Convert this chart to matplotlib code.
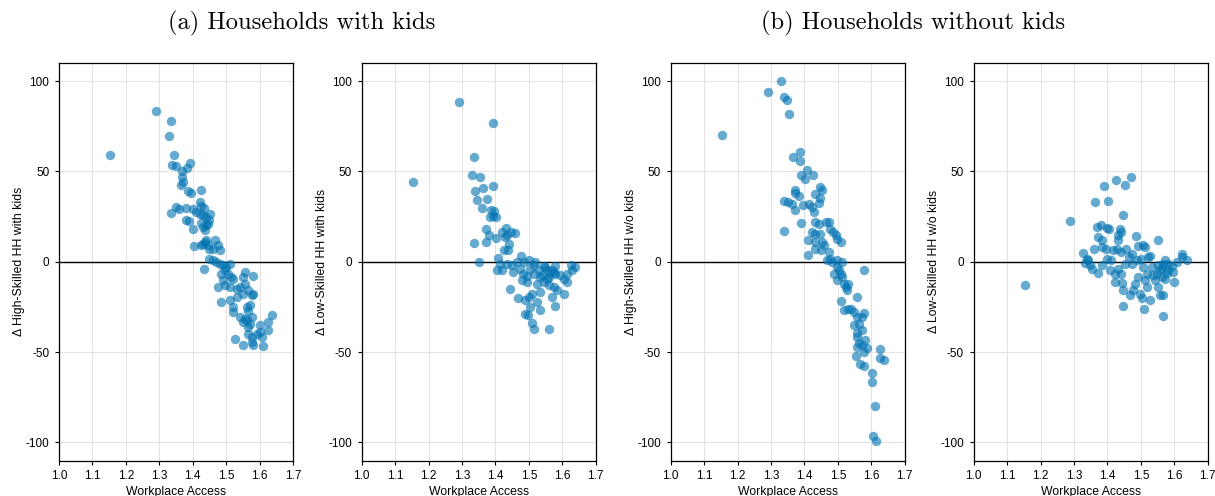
import matplotlib
matplotlib.use("Agg")
import matplotlib.pyplot as plt

plt.rcParams['axes.unicode_minus'] = False
plt.rcParams['font.family'] = ['Liberation Sans', 'DejaVu Sans']

# ---------------- data ----------------
x_hs_kids = [1.152, 1.289, 1.336, 1.329, 1.344, 1.339, 1.351, 1.392, 1.383, 1.369, 1.369, 1.371, 1.366,
             1.386, 1.396, 1.424, 1.336, 1.351, 1.358, 1.381, 1.379, 1.389, 1.401, 1.401, 1.421, 1.426,
             1.433, 1.411, 1.421, 1.431, 1.441, 1.449, 1.447, 1.441, 1.431, 1.436, 1.451, 1.426, 1.405,
             1.426, 1.436, 1.441, 1.431, 1.446, 1.449, 1.461, 1.466, 1.476, 1.481, 1.449, 1.461, 1.471,
             1.433, 1.481, 1.491, 1.501, 1.511, 1.496, 1.506, 1.486, 1.516, 1.521, 1.491, 1.496, 1.476,
             1.511, 1.531, 1.541, 1.556, 1.551, 1.579, 1.556, 1.566, 1.581, 1.576, 1.551, 1.531, 1.511,
             1.486, 1.521, 1.561, 1.566, 1.571, 1.521, 1.541, 1.556, 1.561, 1.576, 1.551, 1.566, 1.571,
             1.626, 1.636, 1.601, 1.626, 1.601, 1.591, 1.566, 1.576, 1.606, 1.581, 1.551, 1.526, 1.611,
             1.576]
y_hs_kids = [59.2, 83.6, 78.0, 69.7, 59.0, 53.5, 52.8, 54.8, 52.0, 50.0, 46.9, 44.0, 42.3,
             38.9, 38.0, 39.5, 27.0, 30.3, 29.3, 29.9, 23.2, 22.3, 18.3, 29.3, 33.0, 31.0,
             30.0, 27.5, 26.6, 25.6, 24.7, 22.9, 21.0, 20.1, 19.2, 17.3, 26.6, 21.4, 8.5,
             9.0, 10.9, 11.8, 10.0, 9.0, 7.2, 7.2, 11.8, 9.0, 6.6, 1.7, 0.7, -0.2,
             -3.9, -1.1, -2.0, -3.0, -1.1, -4.8, -6.6, -6.6, -8.5, -9.4, -10.3, -13.1, -14.0,
             -14.0, -15.0, -14.0, -5.7, -8.5, -8.1, -12.2, -15.9, -17.7, -18.6, -17.7, -19.6, -21.4,
             -22.3, -25.0, -25.0, -27.0, -24.2, -27.9, -30.6, -31.5, -32.5, -30.6, -33.4, -36.2, -34.3,
             -33.4, -29.7, -35.2, -38.0, -38.9, -39.9, -39.9, -41.7, -41.7, -46.3, -46.3, -43.0, -46.9,
             -44.5]

x_ls_kids = [1.153, 1.291, 1.392, 1.336, 1.329, 1.354, 1.364, 1.392, 1.339, 1.374, 1.346, 1.359, 1.386,
             1.397, 1.394, 1.384, 1.402, 1.371, 1.381, 1.371, 1.336, 1.403, 1.352, 1.419, 1.431, 1.436,
             1.429, 1.446, 1.459, 1.442, 1.426, 1.439, 1.409, 1.414, 1.404, 1.419, 1.434, 1.449, 1.464,
             1.476, 1.486, 1.499, 1.519, 1.454, 1.474, 1.484, 1.504, 1.514, 1.529, 1.539, 1.554, 1.569,
             1.579, 1.559, 1.579, 1.544, 1.559, 1.574, 1.524, 1.494, 1.479, 1.444, 1.534, 1.509, 1.499,
             1.469, 1.489, 1.569, 1.584, 1.604, 1.604, 1.614, 1.614, 1.626, 1.639, 1.629, 1.579, 1.524,
             1.532, 1.504, 1.489, 1.497, 1.509, 1.516, 1.559, 1.594, 1.534, 1.554, 1.564, 1.549, 1.574,
             1.544, 1.514, 1.494]
y_ls_kids = [43.9, 88.4, 76.9, 57.7, 47.8, 46.9, 40.8, 41.9, 38.9, 34.5, 33.9, 29.7, 28.4,
             28.0, 25.3, 24.7, 24.7, 17.9, 14.6, 10.9, 10.3, 13.1, 0.0, 16.4, 18.6, 14.6,
             13.7, 16.4, 15.9, 10.0, 6.3, 6.3, 2.0, -1.5, -4.8, -4.8, -1.1, -2.0, -0.2,
             3.0, -0.2, 0.7, -0.2, -5.7, -3.9, -6.6, -3.9, -6.6, -4.8, -7.6, -4.8, -4.8,
             -6.6, -8.5, -2.4, -11.3, -13.1, -14.0, -12.2, -11.3, -10.3, -14.9, -16.8, -17.7, -19.6,
             -19.9, -21.4, -19.6, -15.9, -17.7, -9.4, -11.3, -6.6, -2.0, -2.9, -4.8, -24.5, -22.3,
             -26.9, -25.0, -28.8, -29.2, -33.8, -37.1, -37.3, -7.6, -8.5, -9.4, -6.0, -3.0, -5.5,
             -2.5, -2.0, -8.0]

x_hs_nokids = [1.153, 1.291, 1.330, 1.338, 1.348, 1.353, 1.366, 1.386, 1.388, 1.391, 1.401, 1.408, 1.426,
               1.371, 1.373, 1.383, 1.338, 1.350, 1.363, 1.373, 1.396, 1.413, 1.423, 1.430, 1.433, 1.446,
               1.453, 1.448, 1.443, 1.338, 1.391, 1.433, 1.443, 1.423, 1.433, 1.448, 1.411, 1.433, 1.453,
               1.458, 1.433, 1.450, 1.410, 1.466, 1.473, 1.478, 1.486, 1.493, 1.508, 1.498, 1.468, 1.476,
               1.483, 1.496, 1.513, 1.475, 1.498, 1.503, 1.508, 1.488, 1.496, 1.511, 1.518, 1.523, 1.528,
               1.530, 1.578, 1.558, 1.508, 1.518, 1.530, 1.540, 1.548, 1.558, 1.573, 1.578, 1.563, 1.548,
               1.573, 1.556, 1.558, 1.580, 1.563, 1.573, 1.558, 1.588, 1.553, 1.626, 1.626, 1.638, 1.566,
               1.578, 1.603, 1.601, 1.610, 1.605, 1.613, 1.578]
y_hs_nokids = [69.9, 94.1, 100.0, 91.1, 89.7, 81.9, 57.9, 60.7, 55.5, 47.8, 45.9, 50.6, 48.2,
               39.5, 38.0, 36.2, 33.6, 33.2, 31.7, 28.8, 31.2, 32.1, 30.3, 27.5, 37.3, 41.3,
               39.5, 35.4, 32.5, 17.0, 21.6, 22.0, 21.0, 16.4, 15.5, 15.5, 12.2, 10.9, 10.9,
               9.0, 7.2, 6.3, 3.7, 22.0, 22.0, 18.3, 16.4, 14.6, 10.9, 12.7, 1.1, 1.7,
               -0.2, 0.7, -0.2, 5.4, -3.0, -4.8, -6.6, -6.6, -10.3, -8.5, -12.2, -14.0, -15.9,
               -12.5, -4.8, -19.6, -21.8, -26.6, -26.0, -26.0, -27.9, -30.6, -30.6, -28.4, -34.3, -35.2,
               -38.0, -39.5, -41.7, -43.2, -45.0, -46.3, -47.2, -47.6, -52.2, -48.2, -53.1, -54.6, -56.5,
               -57.9, -61.6, -66.6, -80.1, -96.7, -99.4, -49.8]

x_ls_nokids = [1.152, 1.289, 1.328, 1.471, 1.425, 1.453, 1.390, 1.364, 1.403, 1.448, 1.370, 1.381, 1.400,
               1.406, 1.439, 1.441, 1.432, 1.485, 1.371, 1.385, 1.432, 1.550, 1.359, 1.383, 1.397, 1.418,
               1.428, 1.441, 1.456, 1.475, 1.490, 1.506, 1.512, 1.522, 1.527, 1.338, 1.343, 1.333, 1.348,
               1.353, 1.371, 1.385, 1.398, 1.408, 1.423, 1.423, 1.441, 1.444, 1.448, 1.448, 1.468, 1.478,
               1.483, 1.490, 1.473, 1.488, 1.500, 1.507, 1.517, 1.512, 1.517, 1.498, 1.503, 1.508, 1.527,
               1.542, 1.547, 1.557, 1.567, 1.572, 1.582, 1.562, 1.572, 1.552, 1.557, 1.567, 1.567, 1.597,
               1.600, 1.607, 1.622, 1.637, 1.622, 1.532, 1.582, 1.453, 1.464, 1.411, 1.433, 1.552, 1.562,
               1.577, 1.537, 1.592]
y_ls_nokids = [-13.1, 22.5, 5.0, 47.0, 45.0, 42.3, 42.1, 33.2, 33.6, 26.0, 19.2, 20.1, 18.8,
               18.3, 17.9, 16.4, 14.6, 14.2, 13.7, 11.8, 11.8, 11.8, 6.8, 8.1, 6.8, 6.3,
               6.8, 5.4, 6.8, 4.4, 8.7, 9.0, 8.1, 2.6, 3.1, 1.7, 0.7, -0.7, -2.0,
               -3.9, -6.3, -2.0, 1.7, -4.8, -6.6, -11.3, -6.6, -11.8, -15.9, -24.7, -18.6, -15.9,
               -12.2, -8.5, -1.1, 0.7, 1.7, -3.0, -6.6, -10.3, -13.7, -17.7, -19.9, -26.0, -21.4,
               -10.3, -6.6, -4.8, -1.1, 0.7, -1.1, -8.5, -9.4, -14.0, -18.6, -18.6, -30.1, -5.7,
               -11.3, -0.2, 4.1, 1.1, 2.6, -3.0, -4.8, -1.1, 2.6, 0.7, -3.9, -2.0, -3.5,
               -6.0, -7.5, -2.5]

x_ticks = [1.0, 1.1, 1.2, 1.3, 1.4, 1.5, 1.6, 1.7]
y_ticks = [-100, -50, 0, 50, 100]
y_labels = ['Δ High-Skilled HH with kids', 'Δ Low-Skilled HH with kids',
            'Δ High-Skilled HH w/o kids', 'Δ Low-Skilled HH w/o kids']
panel_titles = ['(a) Households with kids', '(b) Households without kids']

series = [(x_hs_kids, y_hs_kids), (x_ls_kids, y_ls_kids),
          (x_hs_nokids, y_hs_nokids), (x_ls_nokids, y_ls_nokids)]

# ---------------- figure ----------------
W, H = 1215, 496
fig = plt.figure(figsize=(W / 100, H / 100), dpi=100)

lefts_px = [59, 361.7, 670.7, 973.7]
width_px = 234
top_px, bottom_px = 63, 460.5

for i, ((xs, ys), lab) in enumerate(zip(series, y_labels)):
    ax = fig.add_axes([lefts_px[i] / W, 1 - bottom_px / H, width_px / W, (bottom_px - top_px) / H])
    ax.grid(True, color='#e3e3e3', linewidth=0.8, zorder=0)
    ax.set_axisbelow(True)
    ax.axhline(0, color='black', linewidth=1.0, zorder=1)
    ax.scatter(xs, ys, s=46, color='#0072B2', alpha=0.6, linewidths=0, zorder=2)
    ax.set_xlim(1.0, 1.7)
    ax.set_ylim(-110, 110)
    ax.set_xticks(x_ticks)
    ax.set_xticklabels([f'{t:.1f}' for t in x_ticks])
    ax.set_yticks(y_ticks)
    ax.set_yticklabels([str(t) for t in y_ticks])
    ax.tick_params(labelsize=8.5, length=3, width=0.8, pad=4)
    for sp in ax.spines.values():
        sp.set_linewidth(0.9)
    ax.set_xlabel('Workplace Access', fontsize=8.8, labelpad=2.5)
    ax.set_ylabel(lab, fontsize=8.8, labelpad=0.5)

for cx, t in zip([302, 913], panel_titles):
    fig.text(cx / W, 1 - 23 / H, t, fontsize=17.7, family=['cmr10', 'DejaVu Serif'],
             ha='center', va='center')

fig.savefig('out.png', dpi=100)
